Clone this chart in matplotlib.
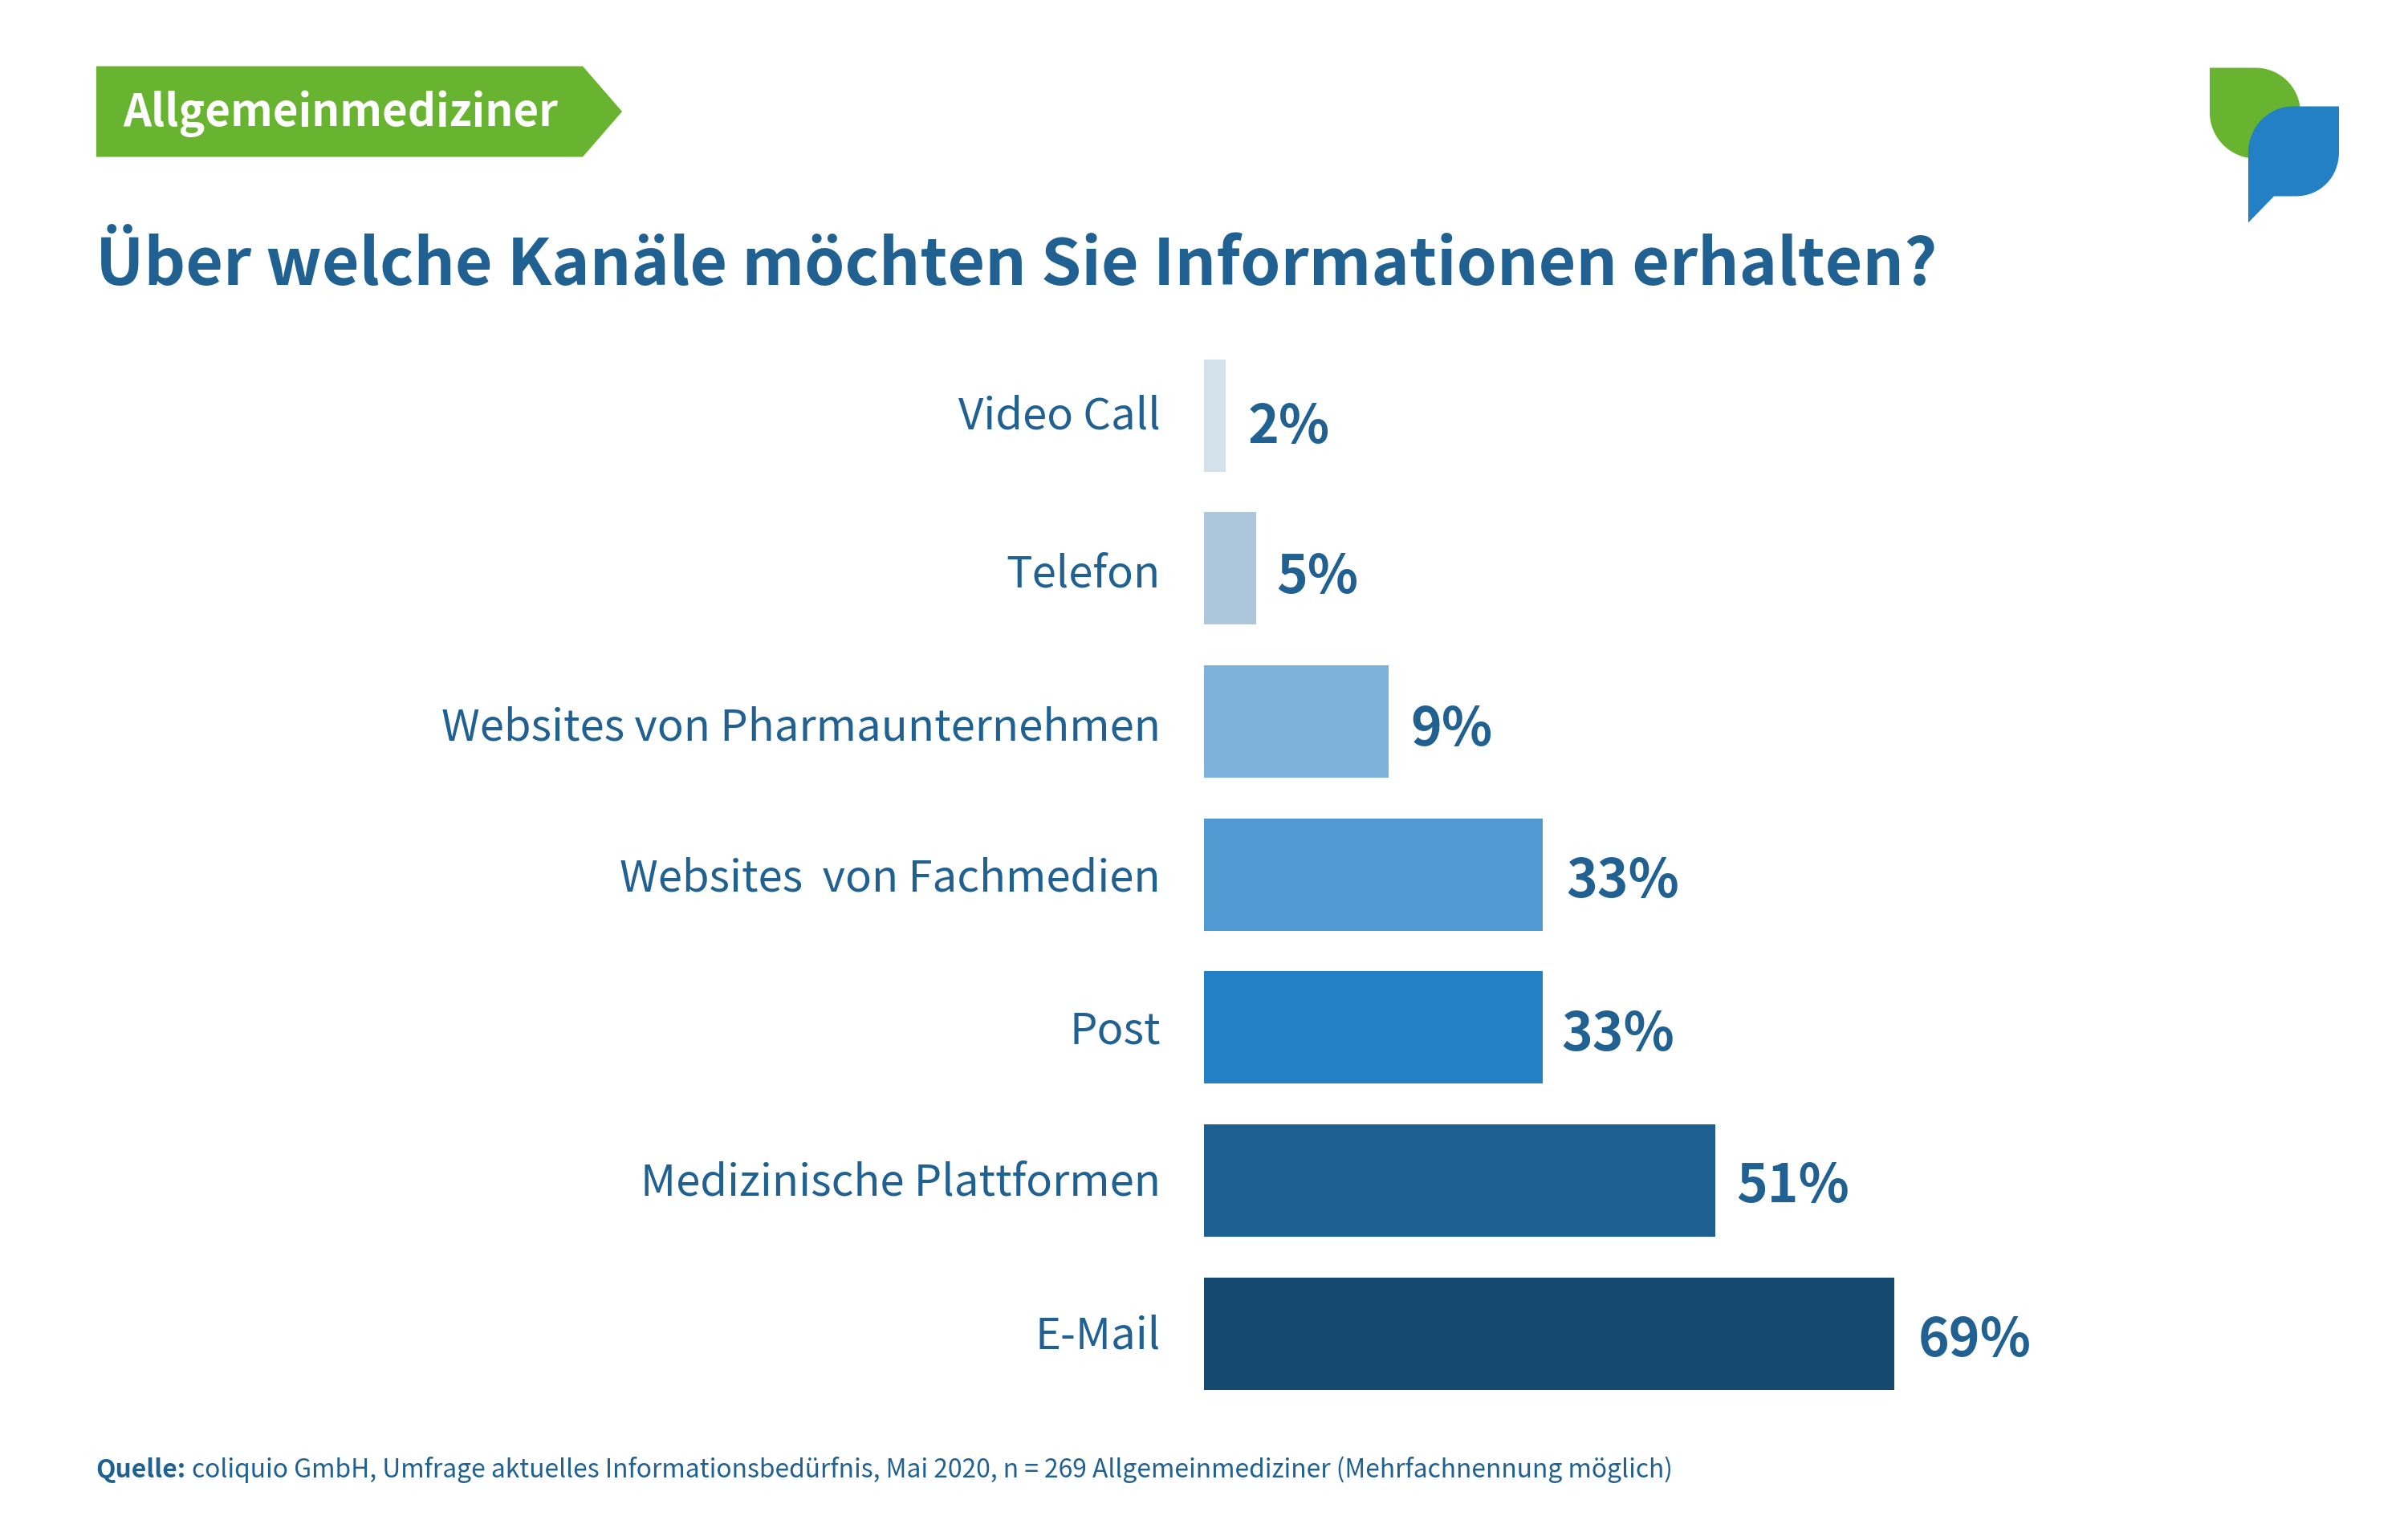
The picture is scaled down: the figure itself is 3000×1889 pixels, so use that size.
import matplotlib
matplotlib.use("Agg")
import matplotlib.pyplot as plt
from matplotlib.patches import PathPatch, Polygon
from matplotlib.path import Path
from matplotlib.transforms import ScaledTranslation

# top to bottom, as in the picture
categories = ["Video Call", "Telefon", "Websites von Pharmaunternehmen", "Websites  von Fachmedien",
              "Post", "Medizinische Plattformen", "E-Mail"]
# bar lengths (the 9% bar is drawn much longer than its label)
bar_lengths = [2.17, 5.2, 18.5, 33.9, 33.9, 51.2, 69.1]
value_labels = ["2%", "5%", "9%", "33%", "33%", "51%", "69%"]
bar_colors = ["#D3E2EA", "#AEC6DC", "#7EB2DB", "#5399D1", "#2480C5", "#1E6092", "#15496F"]

title = "Über welche Kanäle möchten Sie Informationen erhalten?"
tag = "Allgemeinmediziner"
source_bold = "Quelle:"
source = "coliquio GmbH, Umfrage aktuelles Informationsbedürfnis, Mai 2020, n = 269 Allgemeinmediziner (Mehrfachnennung möglich)"

GREEN = "#68B32F"
BLUE = "#2480C5"
TEXT = "#206192"
W, H = 3000, 1890

# the labels in the original are placed by hand, so they sit a little unevenly (points)
cat_nudge_y = [1.99, -0.22, -0.57, 0.56, 0.73, 1.33, 1.3]
val_nudge_x = [-0.7, -1.4, -0.7, 0, -2.1, -1.4, 0]
val_nudge_y = [-5.2, -3.6, -3.6, -2.9, -2.9, -2.5, -2.9]

plt.rcParams["font.family"] = ["Noto Sans CJK SC", "DejaVu Sans"]

fig = plt.figure(figsize=(W / 200, H / 200), dpi=200, facecolor="white")

# overlay in pixel coordinates for the header, logo and footer
bg = fig.add_axes([0, 0, 1, 1])
bg.set_xlim(0, W)
bg.set_ylim(H, 0)
bg.axis("off")

bg.add_patch(Polygon([(120, 83.5), (726, 83.5), (775, 140), (726, 196.5), (120, 196.5)], fc=GREEN, ec="none"))
bg.text(153, 157, tag, color="white", fontsize=19.7, fontweight="bold", va="baseline")
bg.text(119, 355, title, color=TEXT, fontsize=29, fontweight="bold", va="baseline")
bg.text(119, 1841, source_bold, color=TEXT, fontsize=11.45, fontweight="bold", va="baseline")
bg.text(239, 1841, source, color=TEXT, fontsize=11.45, va="baseline")

# logo
k = 31
green_path = Path(
    [(2753, 85.5), (2810, 85.5), (2810 + k, 85.5), (2866, 141.5 - k), (2866, 141.5), (2866, 198.5), (2810, 198.5),
     (2810 - k, 198.5), (2753, 141.5 + k), (2753, 141.5), (2753, 85.5)],
    [Path.MOVETO, Path.LINETO, Path.CURVE4, Path.CURVE4, Path.CURVE4, Path.LINETO, Path.LINETO,
     Path.CURVE4, Path.CURVE4, Path.CURVE4, Path.CLOSEPOLY],
)
blue_path = Path(
    [(2914, 133.5), (2914, 190.5), (2914, 190.5 + k), (2860 + k, 245.5), (2860, 245.5), (2833, 245.5), (2801, 278.5),
     (2801, 190.5), (2801, 190.5 - k), (2857 - k, 133.5), (2857, 133.5), (2914, 133.5)],
    [Path.MOVETO, Path.LINETO, Path.CURVE4, Path.CURVE4, Path.CURVE4, Path.LINETO, Path.LINETO,
     Path.LINETO, Path.CURVE4, Path.CURVE4, Path.CURVE4, Path.CLOSEPOLY],
)
bg.add_patch(PathPatch(green_path, fc=GREEN, ec="none"))
bg.add_patch(PathPatch(blue_path, fc=BLUE, ec="none"))

# bars, axes placed so that one percent is 12.45 px and the row pitch 190.67 px
ax_left, ax_width = 1500, 996
ax_top, ax_bottom = 423.2, 1757.9
ax = fig.add_axes([ax_left / W, 1 - ax_bottom / H, ax_width / W, (ax_bottom - ax_top) / H])
ax.patch.set_alpha(0)
ypos = list(range(len(categories)))
ax.barh(ypos, bar_lengths, height=0.734, color=bar_colors)
ax.set_xlim(0, 80)
ax.set_ylim(len(categories) - 0.5, -0.5)
ax.set_yticks(ypos, categories, color=TEXT, fontsize=19.6)
ax.set_xticks([])
ax.tick_params(axis="y", length=0, pad=19.4)
for s in ax.spines.values():
    s.set_visible(False)

for lab, dy in zip(ax.get_yticklabels(), cat_nudge_y):
    lab.set_transform(lab.get_transform() + ScaledTranslation(0, dy / 72, fig.dpi_scale_trans))

for y, length, label, dx, dy in zip(ypos, bar_lengths, value_labels, val_nudge_x, val_nudge_y):
    ax.annotate(label, (length, y), xytext=(10.6 + dx, dy), textcoords="offset points",
                color=TEXT, fontsize=23.7, fontweight="bold", va="center")

fig.savefig("out.png", dpi=200, facecolor="white")
